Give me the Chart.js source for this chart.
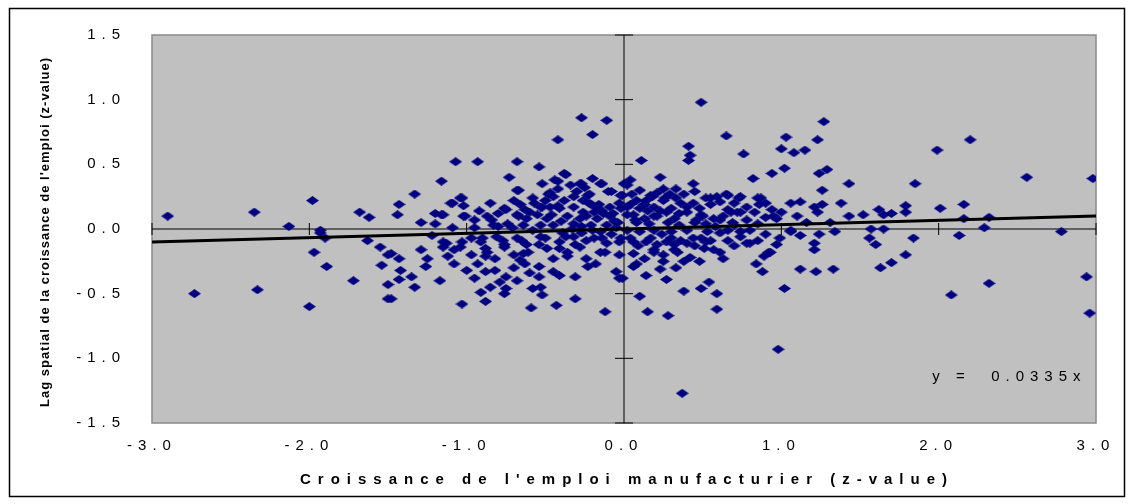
<!DOCTYPE html>
<html>
<head>
<meta charset="utf-8">
<script src="https://cdn.jsdelivr.net/npm/chart.js@4.4.1/dist/chart.umd.min.js"></script>
<style>
  html, body { margin: 0; padding: 0; background: #fff; }
  #wrap { position: relative; width: 1133px; height: 504px; }
</style>
</head>
<body>
<div id="wrap"><canvas id="nuage"></canvas></div>
<script>
// Croissance de l'emploi manufacturier (x) vs lag spatial (y), z-values
const xValues = [
  -2.90,-2.35,-2.13,-1.98,-1.68,-1.62,-1.93,-1.93,-1.90,-1.97,
  -1.89,-2.73,-2.33,-2.00,-1.72,-1.63,-1.55,-1.54,-1.50,-1.50,
  -1.50,-0.27,-0.11,-0.20,-0.42,-1.07,-0.93,-0.68,-0.54,-1.16,
  -0.73,-1.33,-1.43,-1.44,-0.68,-0.52,-0.38,-0.42,-0.20,-0.14,
  -0.08,-0.34,-0.27,-0.22,-0.32,-0.48,-0.58,-1.03,-1.09,-1.02,
  -1.20,-1.15,-1.29,-1.20,-1.01,-0.92,-0.75,-0.66,-0.52,-0.42,
  -0.22,-0.16,-0.03,-0.01,0.00,-0.46,-0.67,-0.84,-0.80,0.49,
  1.27,0.65,0.41,1.23,1.03,1.00,1.08,1.15,0.42,0.41,
  0.76,0.11,1.02,0.94,1.29,1.24,0.82,0.23,0.04,0.02,
  1.43,1.26,0.44,0.10,0.25,0.33,0.45,0.17,0.65,0.74,
  0.87,0.86,1.06,1.12,1.38,1.21,1.26,1.23,1.43,0.94,
  0.95,0.72,0.66,0.55,0.52,0.59,0.36,0.25,0.13,0.02,
  0.06,0.19,0.40,0.49,0.61,0.78,0.85,1.16,1.31,2.20,
  1.99,2.56,2.98,1.85,2.01,2.16,1.79,1.79,1.62,1.70,
  1.65,1.52,2.16,2.32,2.29,1.57,1.65,2.78,1.56,1.60,
  1.84,2.13,1.79,1.70,1.63,2.08,2.32,2.94,2.96,0.37,
  0.98,1.02,1.12,1.22,1.33,0.10,0.15,0.28,0.38,0.49,
  0.54,0.59,0.59,0.27,0.14,0.23,0.25,0.06,-0.01,0.88,
  0.84,0.89,0.92,0.63,0.42,0.13,1.21,1.21,1.24,1.34,
  1.12,1.06,0.99,0.97,0.80,0.85,0.57,0.51,0.34,0.19,
  0.06,0.04,0.14,0.30,0.40,0.49,0.66,0.61,0.74,-1.03,
  -0.88,-0.59,-0.43,-0.31,-0.12,-1.48,-0.91,-0.76,-1.17,-1.33,
  -1.43,-1.35,-1.42,-1.26,-1.29,-1.43,-1.48,-1.25,-1.15,-1.08,
  -1.12,-1.08,-0.88,-0.82,-0.75,-0.79,-0.75,-0.54,-0.53,-0.52,
  -0.45,-0.41,-0.31,-0.54,-0.66,-0.63,-0.70,-0.88,-0.88,-0.76,
  -0.61,-0.45,-0.36,-0.24,-0.18,-0.23,-0.05,-0.03,-0.12,-0.31,
  -0.41,-0.54,-0.65,-0.77,-0.90,-1.03,-1.13,-0.97,-1.22,-0.50,
  -0.37,-0.24,-0.14,-0.03,-0.03,-0.05,-0.20,-0.33,-0.58,-0.71,
  -0.67,-0.44,-0.37,-0.28,-0.15,-0.10,-0.23,-0.42,-0.47,-0.53,
  -0.47,-0.41,-0.32,-0.21,-0.17,-0.09,-0.02,-0.02,-1.10,-1.04,
  -1.16,-1.02,-0.87,-0.76,-0.68,-0.62,-0.55,-0.49,-0.36,-0.28,
  -0.17,-0.09,-1.09,-0.95,-0.83,-0.74,-0.64,-0.53,-0.45,-0.32,
  -0.21,-0.11,-1.15,-1.04,-0.91,-0.81,-0.76,-0.68,-0.62,-0.53,
  -0.49,-0.41,-0.32,-0.28,-0.19,-0.11,-0.02,-0.15,-0.36,-0.64,
  -0.87,0.26,0.18,0.66,0.73,0.55,0.61,0.85,0.04,0.10,
  0.19,0.30,0.40,0.48,0.68,0.74,0.02,0.13,0.21,0.32,
  0.50,0.57,0.63,0.97,0.02,0.10,0.19,0.30,0.40,0.53,
  0.66,0.80,0.06,0.17,0.27,0.36,0.44,0.55,0.74,0.78,
  0.93,1.06,0.19,0.32,0.61,
  -0.26,-0.13,0.08,0.16,0.28,0.35,0.45,0.70,-0.40,-0.06,
  0.23,0.35,0.08,0.29,-0.60,-0.95,0.90,0.70,0.24,-0.26,
  -0.85,-0.80,-0.70,-0.63,-0.57,-0.50,-0.45,-0.38,-0.30,-0.25,
  -0.27,-0.24,-0.19,-0.14,-0.07,-0.04,-0.15,-0.08,-0.27,-0.39,
  0.05,0.14,0.21,0.33,0.38,0.44,0.27,0.15,0.07,0.46,
  0.09,0.21,0.32,0.45,0.52,0.25,0.38,0.48,0.08,0.33,
  -0.97,-0.93,-0.82,-0.70,-0.60,-0.68,-0.58,-0.95,-0.85,-1.00,
  0.58,0.69,0.83,0.90,0.78,0.70,0.52,0.90,1.00,1.10
];
const yValues = [
  0.10,0.13,0.02,0.22,0.13,0.09,-0.01,-0.03,-0.07,-0.18,
  -0.29,-0.50,-0.47,-0.60,-0.40,-0.09,-0.14,-0.28,-0.43,-0.54,
  -0.20,0.86,0.84,0.73,0.69,0.52,0.52,0.52,0.48,0.37,
  0.40,0.27,0.19,0.11,0.30,0.35,0.43,0.37,0.39,0.35,
  0.29,0.34,0.35,0.27,0.25,0.27,0.24,0.24,0.20,0.18,
  0.12,0.11,0.05,0.04,0.10,0.14,0.15,0.19,0.17,0.18,
  0.20,0.19,0.20,0.26,0.35,0.11,0.10,0.07,0.02,0.98,
  0.83,0.72,0.64,0.69,0.71,0.62,0.59,0.61,0.57,0.53,
  0.58,0.53,0.47,0.43,0.46,0.43,0.39,0.40,0.38,0.34,
  0.35,0.30,0.35,0.30,0.31,0.31,0.29,0.26,0.27,0.25,
  0.24,0.19,0.20,0.21,0.20,0.17,0.19,0.13,0.10,0.15,
  0.10,0.13,0.15,0.19,0.24,0.25,0.20,0.22,0.19,0.17,
  0.11,0.10,0.13,0.11,0.07,0.07,0.04,0.05,0.05,0.69,
  0.61,0.40,0.39,0.35,0.16,0.19,0.18,0.13,0.15,0.12,
  0.11,0.11,0.08,0.09,0.01,0.00,0.00,-0.02,-0.07,-0.12,
  -0.07,-0.05,-0.20,-0.26,-0.30,-0.51,-0.42,-0.37,-0.65,-1.27,
  -0.93,-0.46,-0.31,-0.33,-0.31,-0.52,-0.64,-0.67,-0.48,-0.46,
  -0.41,-0.50,-0.62,-0.39,-0.36,-0.31,-0.25,-0.29,-0.38,-0.33,
  -0.27,-0.21,-0.18,-0.23,-0.22,-0.23,-0.16,-0.11,-0.04,-0.02,
  -0.05,-0.02,-0.07,-0.12,-0.11,-0.09,-0.16,-0.15,-0.18,-0.18,
  -0.19,-0.07,-0.10,-0.07,-0.11,-0.07,-0.09,-0.03,-0.02,-0.58,
  -0.56,-0.61,-0.59,-0.54,-0.64,-0.54,-0.49,-0.50,-0.40,-0.45,
  -0.39,-0.37,-0.32,-0.29,-0.16,-0.23,-0.19,-0.23,-0.14,-0.16,
  -0.21,-0.27,-0.33,-0.32,-0.37,-0.41,-0.46,-0.37,-0.45,-0.51,
  -0.33,-0.36,-0.37,-0.29,-0.24,-0.27,-0.20,-0.21,-0.15,-0.12,
  -0.18,-0.23,-0.21,-0.23,-0.27,-0.29,-0.33,-0.38,-0.18,-0.12,
  -0.15,-0.12,-0.09,-0.09,-0.07,-0.10,-0.11,-0.07,-0.05,-0.07,
  -0.06,-0.09,-0.07,-0.10,-0.20,0.01,-0.01,0.00,-0.01,0.01,
  0.30,0.38,0.42,0.35,0.35,0.29,0.26,0.31,0.28,0.17,
  0.17,0.16,0.17,0.19,0.16,0.17,0.16,0.26,0.20,0.24,
  0.11,0.10,0.10,0.16,0.11,0.08,0.11,0.08,0.10,0.08,
  0.08,0.10,0.01,0.01,0.03,0.04,0.03,0.03,0.03,0.04,
  0.03,0.03,-0.10,-0.14,-0.10,-0.06,-0.14,-0.07,-0.12,-0.06,
  -0.15,-0.10,-0.06,-0.14,-0.07,-0.11,-0.07,-0.18,-0.18,-0.19,
  -0.18,0.24,0.25,0.26,0.24,0.24,0.21,0.24,0.19,0.16,
  0.17,0.16,0.17,0.16,0.13,0.13,0.11,0.08,0.10,0.08,
  0.10,0.08,0.10,0.08,-0.01,-0.02,-0.01,-0.02,-0.01,-0.02,
  -0.01,-0.01,-0.10,-0.07,-0.10,-0.09,-0.07,-0.09,-0.06,-0.11,
  -0.18,-0.01,-0.16,-0.16,-0.18,
  0.13,0.12,0.05,0.04,0.05,0.03,0.05,0.03,0.06,0.06,
  0.14,0.12,0.22,0.27,0.13,0.07,-0.04,-0.13,-0.04,0.22,
  0.20,0.12,0.22,0.15,0.20,0.22,0.25,0.22,0.29,0.32,
  0.02,0.10,0.13,0.14,0.12,0.05,-0.02,-0.04,-0.03,-0.03,
  0.27,0.22,0.28,0.24,0.27,0.20,0.13,0.14,0.07,0.07,
  -0.13,-0.12,-0.12,-0.13,-0.10,-0.20,-0.25,-0.25,-0.27,-0.30,
  -0.20,-0.27,-0.23,-0.30,-0.34,-0.40,-0.46,-0.38,-0.45,-0.32,
  0.02,0.05,0.13,0.09,0.17,0.20,0.04,0.20,0.13,0.10
];
const pente = 0.0335;   // y = 0.0335x
const xTicks = [-3, -2, -1, 0, 1, 2, 3];
const yTicks = [-1.5, -1, -0.5, 0, 0.5, 1, 1.5];
const xTitre = "Croissance de l'emploi manufacturier (z-value)";
const yTitre = "Lag spatial de la croissance de l'emploi (z-value)";
const equation = 'y =  0.0335x';

const NAVY = '#000080', GRIS = '#c0c0c0', FONT = '"Liberation Sans", Arial, sans-serif';

// losange aplati façon Excel
const losange = document.createElement('canvas');
losange.width = 13; losange.height = 9;
const lc = losange.getContext('2d');
lc.fillStyle = NAVY;
lc.beginPath(); lc.moveTo(6.5, 0); lc.lineTo(13, 4.5); lc.lineTo(6.5, 9); lc.lineTo(0, 4.5); lc.closePath(); lc.fill();

const points = xValues.map((x, i) => ({ x, y: yValues[i] }));
const xMin = xTicks[0], xMax = xTicks[xTicks.length - 1];
const tendance = [{ x: xMin, y: pente * xMin }, { x: xMax, y: pente * xMax }];

const cadre = {
  id: 'cadre',
  beforeDraw(c) {
    const { ctx, chartArea: a } = c;
    ctx.letterSpacing = '6px';
    ctx.save();
    ctx.fillStyle = GRIS;
    ctx.fillRect(a.left, a.top, a.width, a.height);
    ctx.strokeStyle = '#8a8a8a';
    ctx.lineWidth = 1.5;
    ctx.strokeRect(a.left, a.top, a.width, a.height);
    ctx.restore();
  },
  beforeDatasetsDraw(c) {
    const { ctx, chartArea: a, scales: { x, y } } = c;
    const x0 = x.getPixelForValue(0), y0 = y.getPixelForValue(0);
    ctx.save();
    ctx.strokeStyle = '#000';
    ctx.lineWidth = 1;
    ctx.beginPath();
    ctx.moveTo(a.left, y0); ctx.lineTo(a.right, y0);
    ctx.moveTo(x0, a.top); ctx.lineTo(x0, a.bottom);
    xTicks.forEach(v => { const p = x.getPixelForValue(v); ctx.moveTo(p, y0 - 6); ctx.lineTo(p, y0 + 6); });
    yTicks.forEach(v => { const p = y.getPixelForValue(v); ctx.moveTo(x0 - 9, p); ctx.lineTo(x0 + 9, p); });
    ctx.stroke();
    ctx.restore();
  },
  afterDraw(c) {
    const { ctx, chartArea: a, scales: { x, y } } = c;
    ctx.save();
    ctx.fillStyle = '#000';
    // titre axe x
    ctx.letterSpacing = '7px';
    ctx.font = 'bold 15px ' + FONT;
    ctx.textAlign = 'center';
    ctx.textBaseline = 'middle';
    ctx.fillText(xTitre, (a.left + a.right) / 2 + 3, 480);
    // équation
    ctx.letterSpacing = '6px';
    ctx.font = '15px ' + FONT;
    ctx.textAlign = 'left';
    ctx.fillText(equation, x.getPixelForValue(1.96), y.getPixelForValue(-1.145));
    // titre axe y
    ctx.letterSpacing = '1px';
    ctx.font = 'bold 13px ' + FONT;
    ctx.textAlign = 'center';
    ctx.translate(45, (a.top + a.bottom) / 2 + 3);
    ctx.rotate(-Math.PI / 2);
    ctx.fillText(yTitre, 0, 0);
    ctx.restore();
    // bordure extérieure
    ctx.save();
    ctx.strokeStyle = '#000';
    ctx.lineWidth = 1.5;
    ctx.strokeRect(9.5, 8.5, 1115, 488);
    ctx.restore();
  }
};

new Chart(document.getElementById('nuage'), {
  type: 'scatter',
  data: {
    datasets: [
      {
        type: 'line',
        data: tendance,
        borderColor: '#000',
        borderWidth: 3,
        pointRadius: 0,
        fill: false,
        order: 0
      },
      {
        data: points,
        pointStyle: losange,
        backgroundColor: NAVY,
        borderColor: NAVY,
        order: 1
      }
    ]
  },
  options: {
    responsive: true,
    maintainAspectRatio: false,
    animation: false,
    layout: { padding: { top: 35, right: 37, left: 0, bottom: 0 } },
    plugins: { legend: { display: false }, tooltip: { enabled: false } },
    scales: {
      x: {
        type: 'linear',
        min: xMin, max: xMax,
        afterBuildTicks: s => { s.ticks = xTicks.map(v => ({ value: v })); },
        afterFit: s => { s.height = 81; },
        grid: { display: false, drawTicks: false },
        border: { display: false },
        ticks: {
          padding: 14,
          color: '#000',
          font: { family: FONT, size: 15 },
          callback: v => Number(v).toFixed(1)
        }
      },
      y: {
        type: 'linear',
        min: yTicks[0], max: yTicks[yTicks.length - 1],
        afterBuildTicks: s => { s.ticks = yTicks.map(v => ({ value: v })); },
        afterFit: s => { s.width = 152; },
        grid: { display: false, drawTicks: false },
        border: { display: false },
        ticks: {
          padding: 26,
          color: '#000',
          font: { family: FONT, size: 15 },
          callback: v => Number(v).toFixed(1)
        }
      }
    }
  },
  plugins: [cadre]
});
</script>
</body>
</html>
